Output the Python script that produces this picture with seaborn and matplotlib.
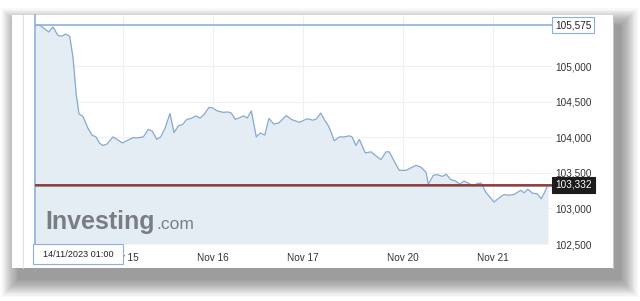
import numpy as np
import pandas as pd
import matplotlib
matplotlib.use("Agg")
import matplotlib.pyplot as plt
import seaborn as sns
from matplotlib.patches import Rectangle
from matplotlib.transforms import blended_transform_factory

# ---- data (session time in days from Nov 14, weekend compressed) ----
session_day = [0.033, 0.048, 0.092, 0.186, 0.233, 0.289, 0.333, 0.370, 0.419, 0.456,
               0.492, 0.522, 0.567, 0.622, 0.670, 0.708, 0.752, 0.789, 0.833, 0.900,
               0.956, 1.003, 1.067, 1.122, 1.163, 1.237, 1.292, 1.337, 1.386, 1.430,
               1.478, 1.533, 1.578, 1.626, 1.674, 1.719, 1.767, 1.819, 1.867, 1.911,
               1.967, 2.008, 2.059, 2.126, 2.178, 2.214, 2.259, 2.308, 2.352, 2.392,
               2.437, 2.492, 2.537, 2.586, 2.633, 2.686, 2.741, 2.826, 2.881, 2.974,
               3.056, 3.122, 3.159, 3.208, 3.252, 3.289, 3.311, 3.359, 3.414, 3.470,
               3.526, 3.556, 3.600, 3.637, 3.703, 3.767, 3.830, 3.878, 3.933, 3.970,
               4.026, 4.081, 4.156, 4.211, 4.267, 4.322, 4.378, 4.403, 4.459, 4.503,
               4.559, 4.603, 4.652, 4.708, 4.752, 4.800, 4.856, 4.903, 4.948, 4.992,
               5.041, 5.133, 5.189, 5.244, 5.300, 5.356, 5.430, 5.467, 5.511, 5.559,
               5.614, 5.659, 5.697, 5.733]
price = [105560, 105575, 105570, 105480, 105550, 105430, 105420, 105450, 105420, 105115,
         104595, 104330, 104290, 104125, 104025, 104010, 103915, 103885, 103905, 104005,
         103960, 103920, 103960, 103995, 103990, 104005, 104110, 104085, 103970, 104005,
         104125, 104335, 104065, 104160, 104180, 104250, 104265, 104300, 104270, 104320,
         104420, 104410, 104370, 104350, 104355, 104340, 104250, 104275, 104300, 104270,
         104370, 104005, 104060, 104030, 104265, 104185, 104200, 104305, 104250, 104210,
         104260, 104240, 104255, 104340, 104240, 104170, 104110, 103950, 104005, 104005,
         104020, 104005, 103885, 103970, 103780, 103795, 103730, 103685, 103795, 103795,
         103660, 103535, 103535, 103570, 103605, 103580, 103510, 103340, 103465, 103475,
         103450, 103480, 103405, 103385, 103340, 103385, 103350, 103310, 103350, 103355,
         103230, 103090, 103145, 103195, 103185, 103195, 103255, 103220, 103270, 103215,
         103205, 103135, 103230, 103332]
tick_pos = [1.01, 2.01, 3.01, 4.12, 5.12]
tick_labels = ["Nov 15", "Nov 16", "Nov 17", "Nov 20", "Nov 21"]
y_ticks = [102500, 103000, 103500, 104000, 104500, 105000]
HIGH = 105575
LAST = 103332
START_LABEL = "14/11/2023 01:00"

sns.set_style("white")
plt.rcParams['font.family'] = ['Liberation Sans', 'DejaVu Sans']

W, H = 640, 301
fig = plt.figure(figsize=(6.4, 3.01), dpi=100)
fig.patch.set_facecolor('white')

# background: panel with soft drop shadow (down-right)
bg = fig.add_axes([0, 0, 1, 1], zorder=0)
bg.set_xlim(0, W); bg.set_ylim(H, 0); bg.axis('off')
n = 16
for i in range(n):
    s = (n - i) * 1.1
    bg.add_patch(Rectangle((12 + 7 - s, 15 + 11 - s), 601 + 2 * s, 253 + 2 * s,
                           fc='black', ec='none', alpha=0.026))
bg.add_patch(Rectangle((12, 15), 601, 253, fc='white', ec='none'))
bg.plot([23, 23], [15, 268], color='#e2e2e2', lw=0.8)
bg.plot([613, 613], [15, 268], color='#c8c8c8', lw=0.8)

# main chart
ax = fig.add_axes([35 / W, 1 - 244 / H, 517 / W, 229 / H], zorder=1)
ax.set_facecolor('none')
df = pd.DataFrame({'t': session_day, 'price': price})
ax.fill_between(df['t'], df['price'], 102500, color='#e5edf4', lw=0, zorder=1)
sns.lineplot(data=df, x='t', y='price', ax=ax, color='#86a9cf', lw=0.9, zorder=3)
ax.set_xlim(0.0333, 5.778)
ax.set_ylim(102500, 105718)
ax.set_xticks(tick_pos)
ax.set_xticklabels(tick_labels)
ax.set_yticks(y_ticks)
ax.set_yticklabels([f"{v:,}" for v in y_ticks])
ax.yaxis.tick_right()
ax.grid(True, color='#edf1f5', lw=0.8, zorder=0)
ax.set_axisbelow(True)
ax.tick_params(axis='y', length=0, pad=2.5, labelsize=7.2, labelcolor='#333333')
ax.tick_params(axis='x', length=0, pad=6.5, labelsize=7.2, labelcolor='#333333')
ax.set_xlabel(''); ax.set_ylabel('')
for s in ['top', 'right', 'bottom']:
    ax.spines[s].set_visible(False)
ax.spines['left'].set_color('#8cb0dc')
ax.spines['left'].set_linewidth(1.2)

ax.axhline(HIGH, color='#8cb0dc', lw=1.2, zorder=4)
ax.axhline(LAST, color='#777777', lw=1.9, zorder=4)
ax.axhline(LAST, color='#a52a2a', lw=1.1, zorder=5)

tr = blended_transform_factory(ax.transAxes, ax.transData)
ax.text(1.0 + 3 / 517, HIGH, f"{HIGH:,}", transform=tr, ha='left', va='center',
        fontsize=7.2, color='#222222', clip_on=False, zorder=6,
        bbox=dict(boxstyle='square,pad=0.3', fc='white', ec='#8cb0dc', lw=0.8))
ax.text(1.0 + 3 / 517, LAST, f"{LAST:,}", transform=tr, ha='left', va='center',
        fontsize=7.2, color='white', clip_on=False, zorder=6,
        bbox=dict(boxstyle='square,pad=0.3', fc='#1c1c1c', ec='#1c1c1c', lw=0.8))

# overlay: logo and start-date box
ov = fig.add_axes([0, 0, 1, 1], zorder=2)
ov.set_xlim(0, W); ov.set_ylim(H, 0); ov.axis('off'); ov.patch.set_alpha(0)
ov.text(45, 229, "Investing", fontsize=18, fontweight='bold', color='#7a7e83',
        ha='left', va='baseline')
ov.text(156, 229, ".com", fontsize=12.5, color='#7a7e83', ha='left', va='baseline')
ov.add_patch(Rectangle((33, 244), 90, 20, fc='white', ec='#8cb0dc', lw=0.8))
ov.text(78, 254.5, START_LABEL, fontsize=6.6, color='#222222', ha='center', va='center')

fig.savefig("out.png", dpi=100)
